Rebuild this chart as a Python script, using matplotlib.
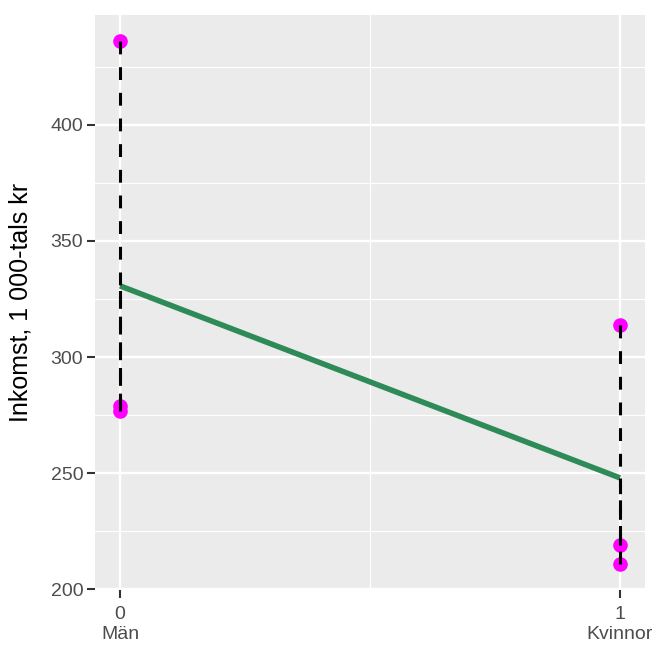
import matplotlib.pyplot as plt
import numpy as np

plt.rcParams['font.family'] = ['Liberation Sans', 'DejaVu Sans']

# data
kon = [0, 0, 0, 1, 1, 1]
inkomst = [436, 279, 277, 314, 219, 211]
x_ticks = [0, 1]
x_labels = ["0\nMän", "1\nKvinnor"]
y_ticks = [200, 250, 300, 350, 400]

x = np.array(kon, dtype=float)
y = np.array(inkomst, dtype=float)

# regression line (least squares)
b, a = np.polyfit(x, y, 1)
yhat = a + b * x

fig = plt.figure(figsize=(6.62, 6.62), dpi=100)
ax = fig.add_axes([95 / 662, 72 / 662, 550 / 662, 575 / 662])
ax.set_facecolor("#EBEBEB")
for s in ax.spines.values():
    s.set_visible(False)

# grid
ax.set_xticks(x_ticks)
ax.set_yticks(y_ticks)
ax.set_xticks([0.5], minor=True)
ax.set_yticks([225, 275, 325, 375, 425], minor=True)
ax.grid(which="major", color="white", linewidth=1.7)
ax.grid(which="minor", color="white", linewidth=0.85)
ax.set_axisbelow(True)

# points, line and residuals
ax.plot(x, y, "o", color="magenta", markersize=9.5, zorder=3)
ax.plot([0, 1], [a, a + b], color="#2E8B57", linewidth=4,
        solid_capstyle="butt", zorder=4)
for xi, yi, fi in zip(x, y, yhat):
    ax.plot([xi, xi], [yi, fi], color="black", linewidth=2.2,
            dashes=(4.2, 4.2), zorder=5)

ax.set_xlim(-0.05, 1.05)
ymin, ymax = y.min(), y.max()
pad = (ymax - ymin) * 0.05
ax.set_ylim(ymin - pad, ymax + pad)

ax.set_xticklabels(x_labels, linespacing=1.2)
ax.tick_params(axis="both", which="major", length=5.5, width=1.5,
               color="#333333", labelcolor="#4D4D4D", labelsize=14, pad=3)
ax.tick_params(axis="x", which="major", pad=6)
ax.tick_params(axis="both", which="minor", length=0)
ax.set_ylabel("Inkomst, 1 000-tals kr", fontsize=18, color="black")
ax.yaxis.set_label_coords(-0.113, 0.5)

fig.savefig("out.png", dpi=100)
